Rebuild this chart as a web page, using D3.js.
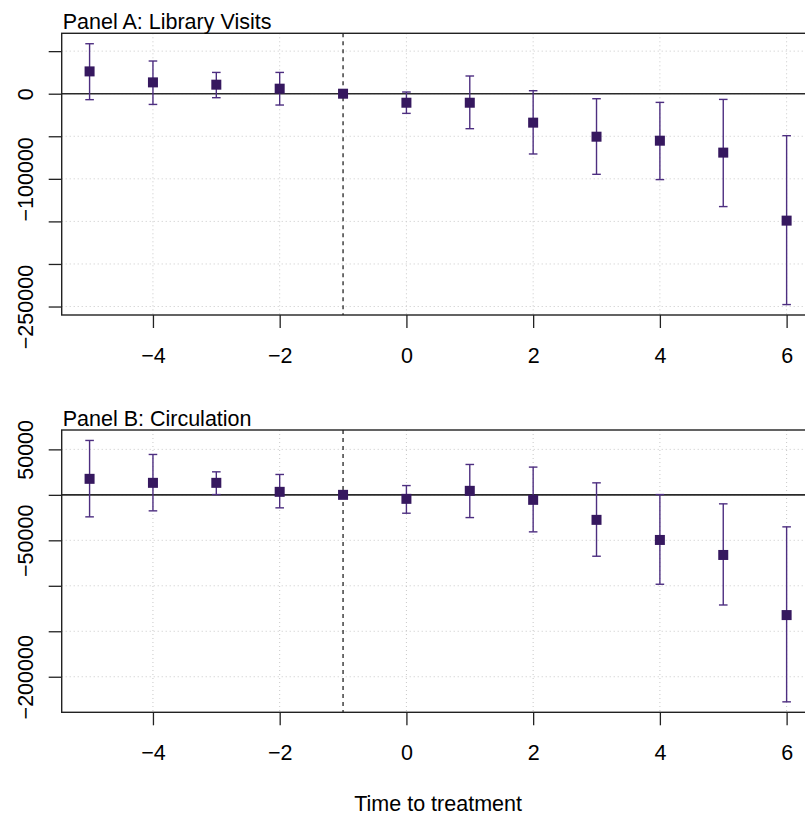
<!DOCTYPE html>
<html>
<head>
<meta charset="utf-8">
<script src="https://cdn.jsdelivr.net/npm/d3@7"></script>
<style>
  body { margin: 0; background: #fff; }
  text { font-family: "Liberation Sans", Arial, Helvetica, sans-serif; fill: #000; }
</style>
</head>
<body>
<script>
var width = 805;
var height = 815;

// event time (relative to treatment)
var periods = [-5, -4, -3, -2, -1, 0, 1, 2, 3, 4, 5, 6];

// Panel A: library visits, estimate and 95% interval
var visitsEst = [26200, 13300, 10600, 5900, 0, -10600, -10600, -34000, -50500, -55200, -69200, -149100];
var visitsLo  = [-7000, -12600, -4700, -13300, 0, -23100, -41100, -70800, -94700, -100900, -132600, -247700];
var visitsHi  = [58700, 38400, 25000, 25000, 0, 2000, 20800, 3500, -5900, -10200, -6700, -49300];

// Panel B: circulation
var circEst = [17600, 13200, 13200, 3300, 0, -4400, 4400, -5500, -27500, -49600, -66100, -132200];
var circLo  = [-24200, -17600, 300, -14300, 0, -20200, -25000, -40700, -67500, -98300, -121100, -227600];
var circHi  = [59800, 44400, 25300, 22400, 0, 10200, 33400, 30500, 13200, 300, -9900, -35200];

var xTicks = [-4, -2, 0, 2, 4, 6];
var visitsTicks = [50000, 0, -50000, -100000, -150000, -200000, -250000];
var circTicks = [50000, 0, -50000, -100000, -150000, -200000];

var refPeriod = -1;
var ptColor = "#36185f";
var barColor = "#4d2e80";
var fontSize = 21.5;

var svg = d3.select("body").append("svg")
    .attr("width", width)
    .attr("height", height);

var plotLeft = 61.7;
var plotRight = 814.5;

function padded(lo, hi) {
    var span = hi - lo;
    return [lo - 0.04 * span, hi + 0.04 * span];
}

var x = d3.scaleLinear()
    .domain(padded(d3.min(periods), d3.max(periods)))
    .range([plotLeft, plotRight]);

function drawPanel(title, est, lo, hi, ticks, top, bottom) {
    var yDom = padded(Math.min(d3.min(lo), 0), Math.max(d3.max(hi), 0));
    var y = d3.scaleLinear().domain(yDom).range([bottom, top]);

    var g = svg.append("g");

    // dotted grid
    g.selectAll(".hgrid")
        .data(ticks)
        .enter()
        .append("line")
        .attr("x1", plotLeft).attr("x2", plotRight)
        .attr("y1", function (d) { return y(d); })
        .attr("y2", function (d) { return y(d); })
        .attr("stroke", "#c8c8c8")
        .attr("stroke-dasharray", "1,3");

    g.selectAll(".vgrid")
        .data(xTicks)
        .enter()
        .append("line")
        .attr("x1", function (d) { return x(d); })
        .attr("x2", function (d) { return x(d); })
        .attr("y1", top).attr("y2", bottom)
        .attr("stroke", "#c8c8c8")
        .attr("stroke-dasharray", "1,3");

    // zero line and reference period
    g.append("line")
        .attr("x1", plotLeft).attr("x2", plotRight)
        .attr("y1", y(0)).attr("y2", y(0))
        .attr("stroke", "#2a2a2a")
        .attr("stroke-width", 1.6);

    g.append("line")
        .attr("x1", x(refPeriod)).attr("x2", x(refPeriod))
        .attr("y1", top).attr("y2", bottom)
        .attr("stroke", "#111")
        .attr("stroke-width", 1.2)
        .attr("stroke-dasharray", "4,4");

    // frame
    g.append("rect")
        .attr("x", plotLeft).attr("y", top)
        .attr("width", plotRight - plotLeft)
        .attr("height", bottom - top)
        .attr("fill", "none")
        .attr("stroke", "#222")
        .attr("stroke-width", 1.4);

    // axes
    var xAxis = g.append("g")
        .attr("transform", "translate(0," + bottom + ")")
        .call(d3.axisBottom(x).tickValues(xTicks).tickSize(13)
            .tickFormat(d3.format("d")));
    xAxis.select(".domain").remove();
    xAxis.selectAll("line").attr("stroke", "#222").attr("stroke-width", 1.3);
    xAxis.selectAll("text")
        .attr("dy", 0)
        .attr("y", 48)
        .style("font-size", fontSize + "px")
        .style("font-family", "'Liberation Sans', Arial, sans-serif");

    var yAxis = g.append("g")
        .attr("transform", "translate(" + plotLeft + ",0)")
        .call(d3.axisLeft(y).tickValues(ticks).tickSize(13).tickFormat(d3.format("d")));
    yAxis.select(".domain").remove();
    yAxis.selectAll("line").attr("stroke", "#222").attr("stroke-width", 1.3);
    var labels = yAxis.selectAll("text")
        .attr("dy", 0)
        .attr("x", 0)
        .attr("y", 33 - plotLeft)
        .attr("transform", "rotate(-90)")
        .attr("text-anchor", "middle")
        .style("font-size", fontSize + "px")
        .style("font-family", "'Liberation Sans', Arial, sans-serif");

    // drop labels that collide, working up from the bottom like R does
    var gap = 0.833 * fontSize;
    var lastTop = Infinity;
    var items = [];
    labels.each(function (d) { items.push({ node: this, v: d }); });
    items.sort(function (a, b) { return a.v - b.v; });
    items.forEach(function (it) {
        var len = it.node.getComputedTextLength();
        var yc = y(it.v);
        if (yc + len / 2 + gap <= lastTop) {
            lastTop = yc - len / 2;
        } else {
            d3.select(it.node).remove();
        }
    });

    // error bars
    var rows = periods.map(function (p, i) {
        return { p: p, est: est[i], lo: lo[i], hi: hi[i] };
    });
    var bars = rows.filter(function (d) { return d.lo !== d.hi; });

    g.selectAll(".ci")
        .data(bars)
        .enter()
        .append("line")
        .attr("x1", function (d) { return x(d.p); })
        .attr("x2", function (d) { return x(d.p); })
        .attr("y1", function (d) { return y(d.lo); })
        .attr("y2", function (d) { return y(d.hi); })
        .attr("stroke", barColor)
        .attr("stroke-width", 1.4);

    ["lo", "hi"].forEach(function (k) {
        g.selectAll(".cap" + k)
            .data(bars)
            .enter()
            .append("line")
            .attr("x1", function (d) { return x(d.p) - 4.3; })
            .attr("x2", function (d) { return x(d.p) + 4.3; })
            .attr("y1", function (d) { return y(d[k]); })
            .attr("y2", function (d) { return y(d[k]); })
            .attr("stroke", barColor)
            .attr("stroke-width", 1.4);
    });

    // point estimates
    g.selectAll(".pt")
        .data(rows)
        .enter()
        .append("rect")
        .attr("x", function (d) { return x(d.p) - 5; })
        .attr("y", function (d) { return y(d.est) - 5; })
        .attr("width", 10)
        .attr("height", 10)
        .attr("fill", ptColor);

    g.append("text")
        .attr("x", plotLeft + 1)
        .attr("y", top - 4.5)
        .style("font-size", fontSize + "px")
        .text(title);
}

drawPanel("Panel A: Library Visits", visitsEst, visitsLo, visitsHi, visitsTicks, 33.3, 315);
drawPanel("Panel B: Circulation", circEst, circLo, circHi, circTicks, 430, 712.3);

svg.append("text")
    .attr("x", (plotLeft + plotRight) / 2)
    .attr("y", 811)
    .attr("text-anchor", "middle")
    .style("font-size", fontSize + "px")
    .text("Time to treatment");
</script>
</body>
</html>
